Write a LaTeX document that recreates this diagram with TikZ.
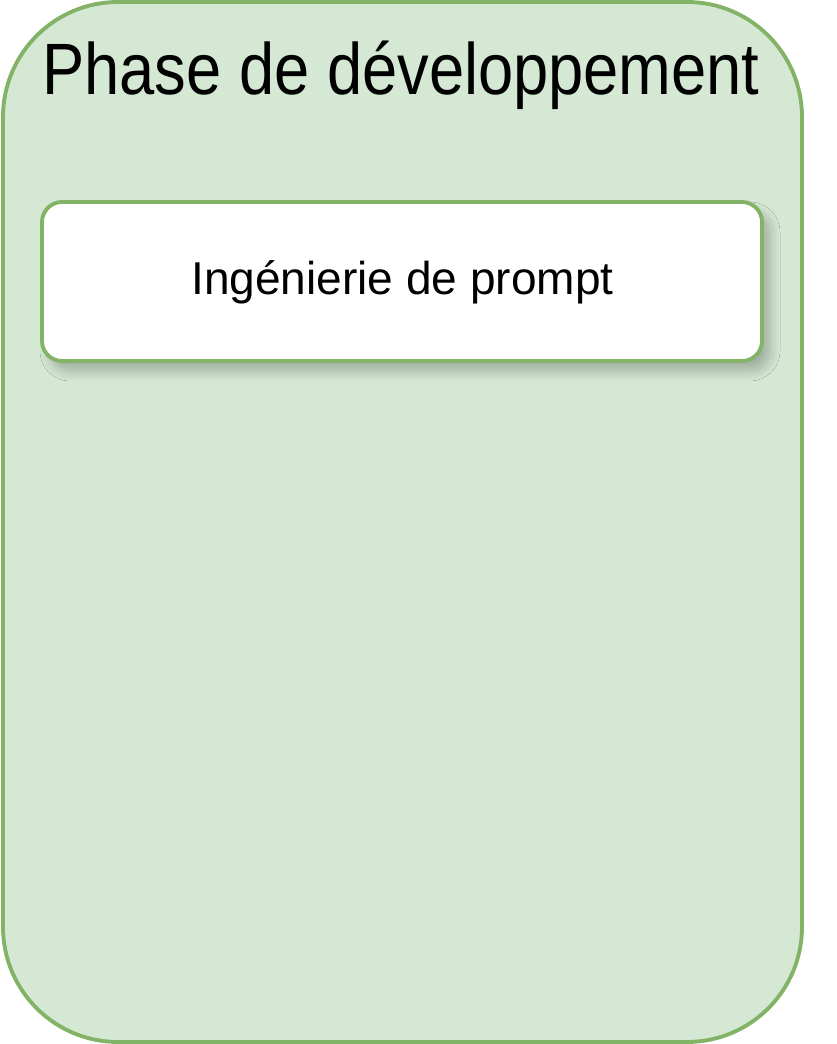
\documentclass[tikz,border=0pt]{standalone}
\usepackage{fontspec}
\setmainfont{Liberation Sans}
\usepackage{tikz}
\usetikzlibrary{shadows.blur}

\definecolor{phaseFill}{HTML}{D5E8D4}
\definecolor{phaseLine}{HTML}{82B366}

\begin{document}
\begin{tikzpicture}
    \def \pageWidth {8.36}
    \def \pageHeight {10.44}
    \useasboundingbox (0,0) rectangle (\pageWidth,\pageHeight);
    % Phase container
    \node[draw=phaseLine, fill=phaseFill, line width=1.1pt, rounded corners=1.15cm, minimum width=7.99cm, minimum height=10.40cm, inner sep=0pt] (phase) at (4.025,5.22) {};
    % Title
    \node[anchor=base, inner sep=0pt, font=\fontsize{18}{22}\selectfont, yscale=1.15, transform shape] (title) at (4.01,9.49) {Phase de développement};
    % Prompt box
    \node[draw=phaseLine, fill=white, line width=1.1pt, rounded corners=0.2cm, minimum width=7.20cm, minimum height=1.59cm, inner sep=0pt, blur shadow={shadow xshift=0.08cm, shadow yshift=-0.1cm, shadow blur radius=0.1cm, shadow blur steps=10, shadow opacity=25}] (prompt) at (4.02,7.625) {};
    \node[anchor=base, inner sep=0pt, font=\fontsize{13.1}{16}\selectfont] (promptText) at (4.025,7.49) {Ingénierie de prompt};
\end{tikzpicture}
\end{document}
